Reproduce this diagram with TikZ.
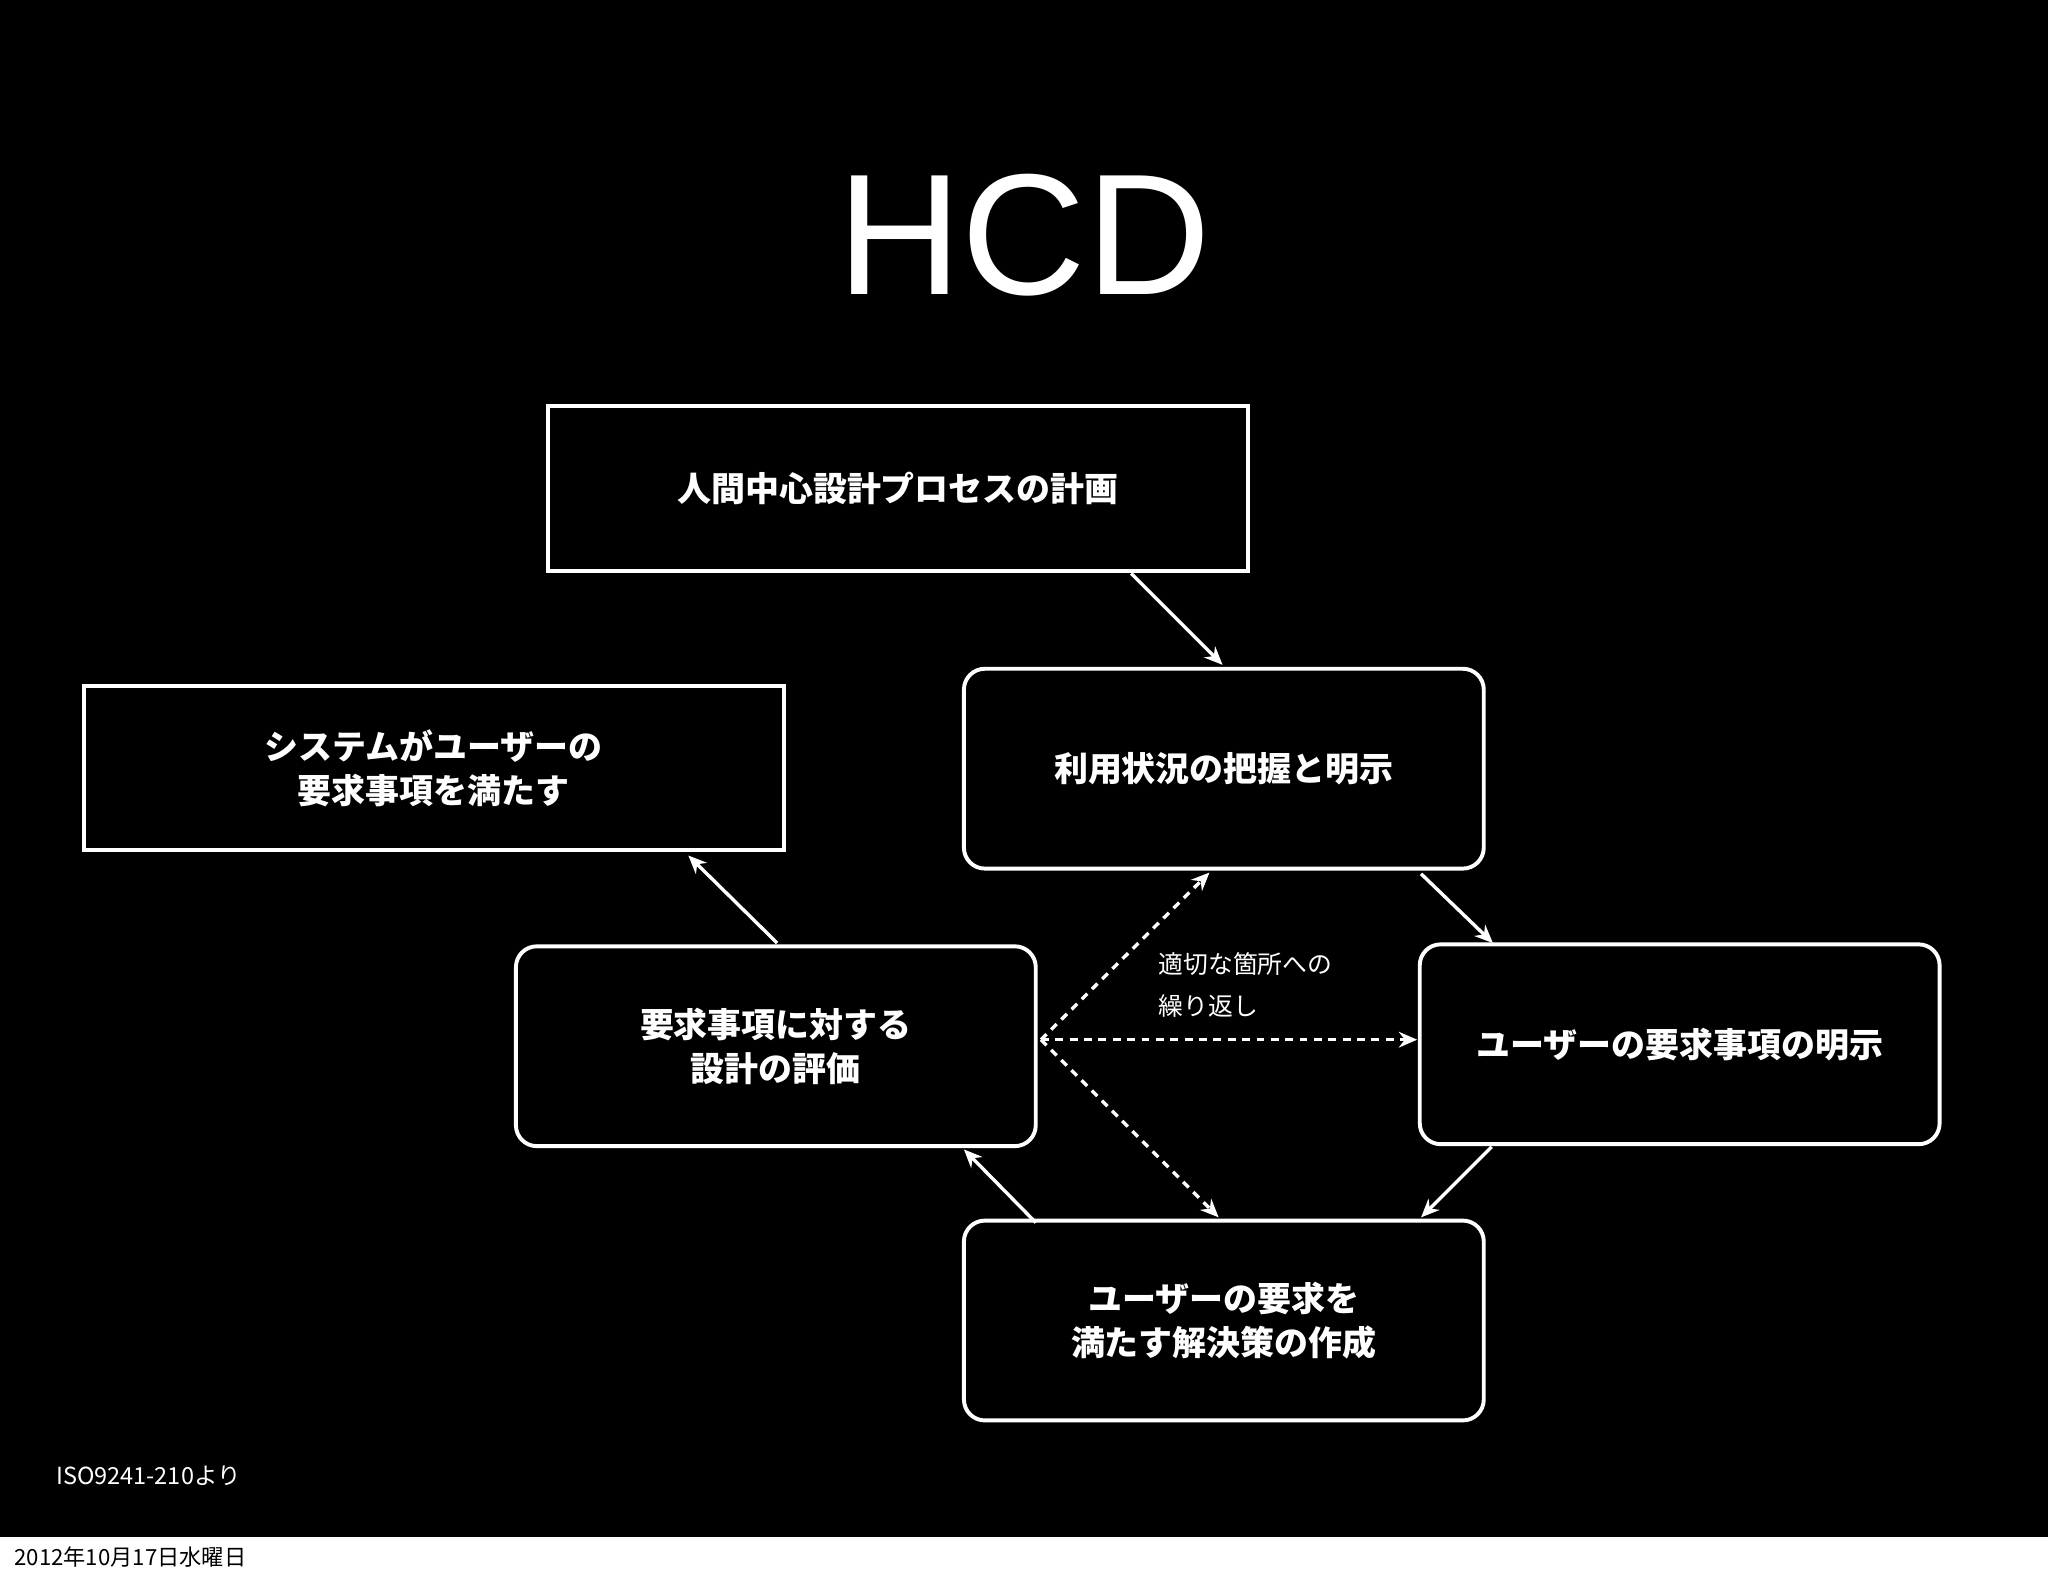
\documentclass[tikz,border=0pt]{standalone}
\usepackage{fontspec}
\setmainfont{Noto Sans CJK JP}
\newfontfamily\titlefont{Liberation Sans}
\usetikzlibrary{arrows.meta}
\begin{document}
\begin{tikzpicture}[x=0.5pt,y=-0.5pt,
  box/.style={draw=white,line width=1.5pt,fill=black,text=white,font=\bfseries\fontsize{13}{17}\selectfont,align=center,inner sep=0pt},
  sq/.style={box,minimum width=268pt,minimum height=63pt},
  rbox/.style={box,rounded corners=8pt,minimum width=199pt,minimum height=76.5pt},
  arr/.style={draw=white,line width=1.3pt,-{Stealth[length=7pt,width=6pt]}},
  darr/.style={arr,dashed,dash pattern=on 3pt off 2.5pt}]
\fill[black] (0,0) rectangle (1568,1177);
\fill[white] (0,1177) rectangle (1568,1207);
\useasboundingbox (0,0) rectangle (1568,1207);
\node[text=white,font=\titlefont\fontsize{66}{70}\selectfont] (title) at (784,180) {HCD};
\node[sq] (plan) at (687.5,374) {人間中心設計プロセスの計画};
\node[sq] (sys) at (332,588) {システムがユーザーの\\要求事項を満たす};
\node[rbox] (ctx) at (937,588.5) {利用状況の把握と明示};
\node[rbox] (req) at (1286,799.5) {ユーザーの要求事項の明示};
\node[rbox] (sol) at (937,1011) {ユーザーの要求を\\満たす解決策の作成};
\node[rbox] (eval) at (594,801) {要求事項に対する\\設計の評価};
\coordinate (a1s) at (866,439); \coordinate (a1e) at (936,509);
\coordinate (a2s) at (1088,669); \coordinate (a2e) at (1143,722);
\coordinate (a3s) at (1142,878); \coordinate (a3e) at (1088,932);
\coordinate (a4s) at (793,936); \coordinate (a4e) at (738,880);
\coordinate (a5s) at (595,722); \coordinate (a5e) at (527,655);
\coordinate (ds) at (797,796);
\coordinate (d1) at (926,668); \coordinate (d2) at (1085,796); \coordinate (d3) at (933,932);
\draw[arr] (a1s) -- (a1e);
\draw[arr] (a2s) -- (a2e);
\draw[arr] (a3s) -- (a3e);
\draw[arr] (a4s) -- (a4e);
\draw[arr] (a5s) -- (a5e);
\draw[darr] (ds) -- (d1);
\draw[darr] (ds) -- (d2);
\draw[darr] (ds) -- (d3);
\node[text=white,font=\fontsize{9.5}{16}\selectfont,align=left,anchor=north west] (lbl) at (880,722) {適切な箇所への\\繰り返し};
\node[text=white,font=\fontsize{9}{11}\selectfont,anchor=west] (src) at (36,1130) {ISO9241-210より};
\node[text=black,font=\fontsize{8.5}{10}\selectfont,anchor=west] (date) at (4,1192) {2012年10月17日水曜日};
\end{tikzpicture}
\end{document}
